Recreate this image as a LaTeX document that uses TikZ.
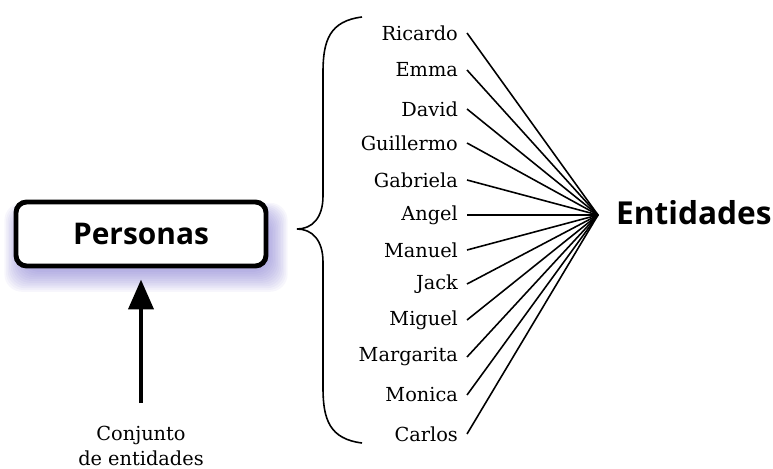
\documentclass[tikz,border=0pt]{standalone}
\usepackage{fontspec}
\setmainfont{DejaVu Serif}
\newfontfamily\headfont{Open Sans}
\usetikzlibrary{arrows.meta}

\definecolor{shadowlav}{RGB}{110,100,200}

\tikzset{
  namenode/.style={anchor=east, inner xsep=5pt, inner ysep=1pt, font=\fontsize{11}{13}\selectfont},
  headbox/.style={draw, rounded corners=6pt, line width=2.8pt, fill=white,
    minimum width=5.0cm, minimum height=1.28cm, font=\headfont\bfseries\fontsize{17}{20}\selectfont},
  fan/.style={line width=0.9pt}
}

\begin{document}
\begin{tikzpicture}[x=0.02cm, y=-0.02cm, >=latex]
        \useasboundingbox (0,0) rectangle (773,469);

        % soft shadow under the box
        \foreach \k in {0,...,11}
            \fill [shadowlav, opacity=0.055, rounded corners=10pt]
                ({22-\k*1.6},{216-\k*1.2}) rectangle ({270+\k*1.6},{272+\k*1.8});

        \node (personas) [headbox] at (141,234) {Personas};
        \node (conjunto) [align=center, font=\fontsize{11}{14}\selectfont] at (141,446) {Conjunto\\de entidades};

        \coordinate (tail) at (141,403);
        \draw [line width=2.8pt, -{Triangle[length=17pt,width=14pt]}, shorten >=0.22cm] (tail) -- (personas.south);

        % the brace round the names
        \draw [line width=0.9pt] (362,17) .. controls (330,21) and (323,40) .. (323,72) -- (323,196)
            .. controls (323,218) and (312,229) .. (297,229)
            .. controls (312,229) and (323,240) .. (323,262) -- (323,388)
            .. controls (323,420) and (330,439) .. (362,443);

        \coordinate (hub) at (598,215);
        \node (entidades) [anchor=west, font=\headfont\bfseries\fontsize{18}{21}\selectfont] at (610,213) {Entidades};

        % the names
        \node (n1) [namenode] at (467,33) {Ricardo};
        \node (n2) [namenode] at (467,70) {Emma};
        \node (n3) [namenode] at (467,109) {David};
        \node (n4) [namenode] at (467,143) {Guillermo};
        \node (n5) [namenode] at (467,180) {Gabriela};
        \node (n6) [namenode] at (467,215) {Angel};
        \node (n7) [namenode] at (467,250) {Manuel};
        \node (n8) [namenode] at (467,284) {Jack};
        \node (n9) [namenode] at (467,320) {Miguel};
        \node (n10) [namenode] at (467,357) {Margarita};
        \node (n11) [namenode] at (467,395) {Monica};
        \node (n12) [namenode] at (467,434) {Carlos};

        \foreach \i in {1,...,12}
            \draw [fan] (n\i.east) -- (hub);
    \end{tikzpicture}
\end{document}
